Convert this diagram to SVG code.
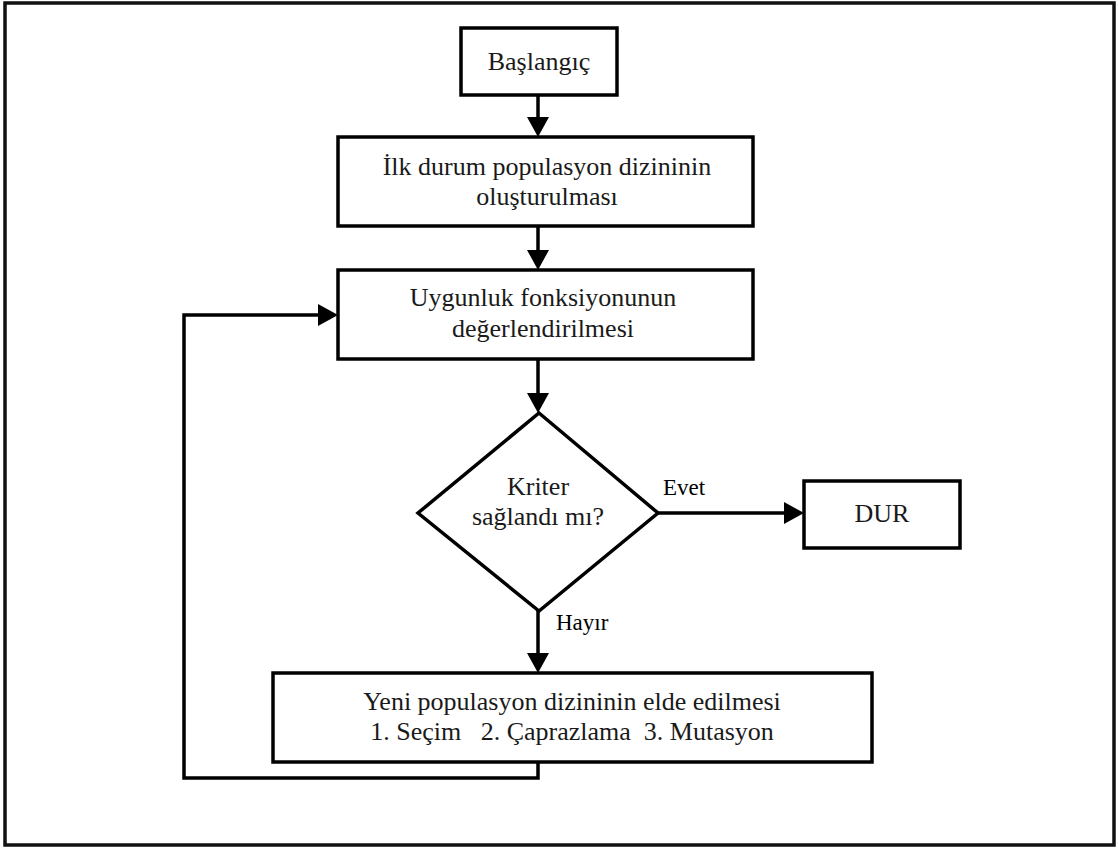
<svg xmlns="http://www.w3.org/2000/svg" width="1118" height="849" viewBox="0 0 1118 849">
<style>
.box{fill:#fff;stroke:#000;stroke-width:3.5}
.frame{fill:#fff;stroke:#111;stroke-width:3.5}
.conn{fill:none;stroke:#000;stroke-width:3.5}
.t{font-family:"Liberation Serif","Times New Roman",serif;font-size:26px;fill:#1a1a1a;text-anchor:middle}
.lbl{font-family:"Liberation Serif","Times New Roman",serif;font-size:23px;fill:#000}
</style>
<defs>
<marker id="ah" markerUnits="userSpaceOnUse" markerWidth="20" markerHeight="22" refX="0" refY="11" orient="auto">
<path d="M0,0 L20,11 L0,22 z" fill="#000"/>
</marker>
</defs>
<rect class="frame" x="5" y="3" width="1109" height="842"/>
<g id="connectors">
<path class="conn" d="M538,95 V117" marker-end="url(#ah)"/>
<path class="conn" d="M538,226 V250" marker-end="url(#ah)"/>
<path class="conn" d="M538,359 V393" marker-end="url(#ah)"/>
<path class="conn" d="M658,513 H784" marker-end="url(#ah)"/>
<path class="conn" d="M538,611 V653" marker-end="url(#ah)"/>
<path class="conn" d="M538,762 V778 H184 V315 H318" marker-end="url(#ah)"/>
<text class="lbl" x="663" y="495">Evet</text>
<text class="lbl" x="556" y="630">Hayır</text>
</g>
<g id="start">
<rect class="box" x="461" y="28" width="156" height="67"/>
<text class="t" x="539" y="70">Başlangıç</text>
</g>
<g id="init">
<rect class="box" x="338" y="137" width="415" height="89"/>
<text class="t" x="547" y="175">İlk durum populasyon dizininin</text>
<text class="t" x="547" y="205">oluşturulması</text>
</g>
<g id="fitness">
<rect class="box" x="338" y="270" width="415" height="89"/>
<text class="t" x="543" y="306">Uygunluk fonksiyonunun</text>
<text class="t" x="543" y="337">değerlendirilmesi</text>
</g>
<g id="decision">
<polygon class="box" points="539,413 658,513 539,611 418,513"/>
<text class="t" x="538" y="495">Kriter</text>
<text class="t" x="538" y="525">sağlandı mı?</text>
</g>
<g id="stop">
<rect class="box" x="804" y="481" width="156" height="67"/>
<text class="t" x="882" y="522">DUR</text>
</g>
<g id="newpop">
<rect class="box" x="273" y="673" width="599" height="89"/>
<text class="t" x="572" y="710">Yeni populasyon dizininin elde edilmesi</text>
<text class="t" x="572" y="740" xml:space="preserve">1. Seçim   2. Çaprazlama  3. Mutasyon</text>
</g>
</svg>
